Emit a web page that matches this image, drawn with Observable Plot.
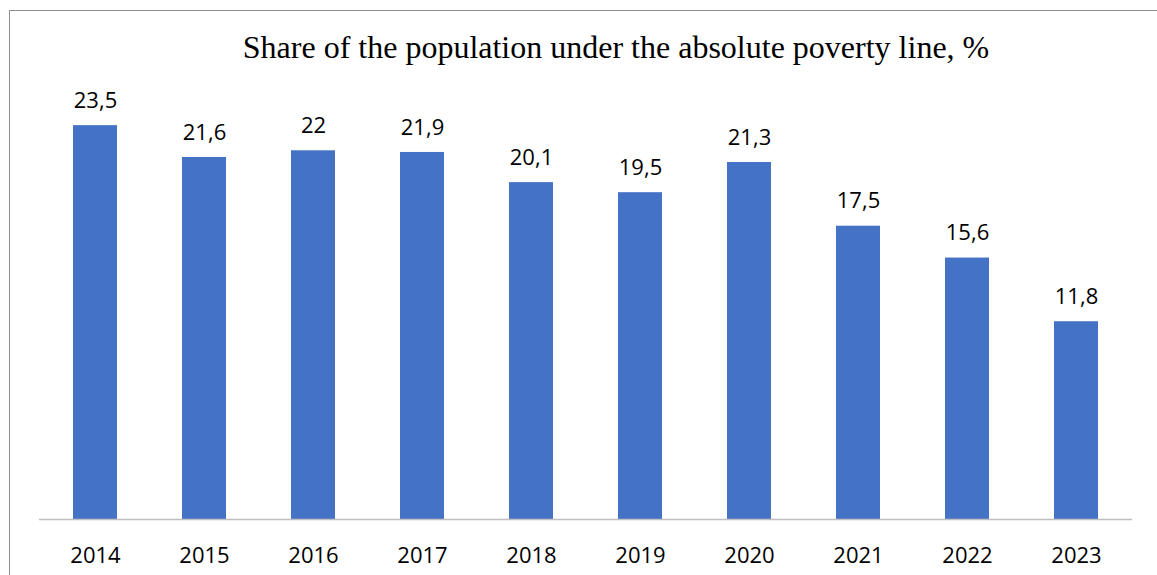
<!DOCTYPE html>
<html>
<head>
<meta charset="utf-8">
<script src="https://cdn.jsdelivr.net/npm/d3@7"></script>
<script src="https://cdn.jsdelivr.net/npm/@observablehq/plot@0.6"></script>
<style>
  html, body { margin: 0; padding: 0; background: #fff; overflow: hidden; }
  #wrap { position: relative; width: 1157px; height: 575px; }
  #frame { position: absolute; left: 9px; top: 10px; width: 1300px; height: 700px;
           border-left: 1px solid #8f8f8f; border-top: 1px solid #8f8f8f; }
  #title { position: absolute; left: 0; width: 1232px; top: 29px; text-align: center;
           font-family: "Liberation Serif", "Times New Roman", serif; font-size: 32px; color: #000; }
  #chart { position: absolute; left: 0; top: 0; }
</style>
</head>
<body>
<div id="wrap">
  <div id="frame"></div>
  <div id="title">Share of the population under the absolute poverty line, %</div>
  <div id="chart"></div>
</div>
<script>
const years = ["2014","2015","2016","2017","2018","2019","2020","2021","2022","2023"];
const values = [23.5, 21.6, 22, 21.9, 20.1, 19.5, 21.3, 17.5, 15.6, 11.8];
const labels = ["23,5","21,6","22","21,9","20,1","19,5","21,3","17,5","15,6","11,8"];

const data = years.map((y, i) => ({year: y, value: values[i], label: labels[i]}));

const chart = Plot.plot({
  width: 1157,
  height: 575,
  marginLeft: 39,
  marginRight: 25,
  marginTop: 100,
  marginBottom: 56,
  style: {fontFamily: "'Open Sans', sans-serif", fontSize: "22px", color: "#000", background: "transparent"},
  x: {domain: years, paddingInner: 0.6, paddingOuter: 0.3, label: null, tickSize: 0, tickPadding: 28},
  y: {domain: [0, 25], axis: null},
  marks: [
    Plot.barY(data, {x: "year", y: "value", fill: "#4472C4"}),
    Plot.ruleY([0], {stroke: "#bfbfbf", strokeWidth: 1.5}),
    Plot.text(data, {x: "year", y: "value", text: "label", dy: -25, fill: "#000", fontSize: 22})
  ]
});
document.getElementById("chart").appendChild(chart);
</script>
</body>
</html>
